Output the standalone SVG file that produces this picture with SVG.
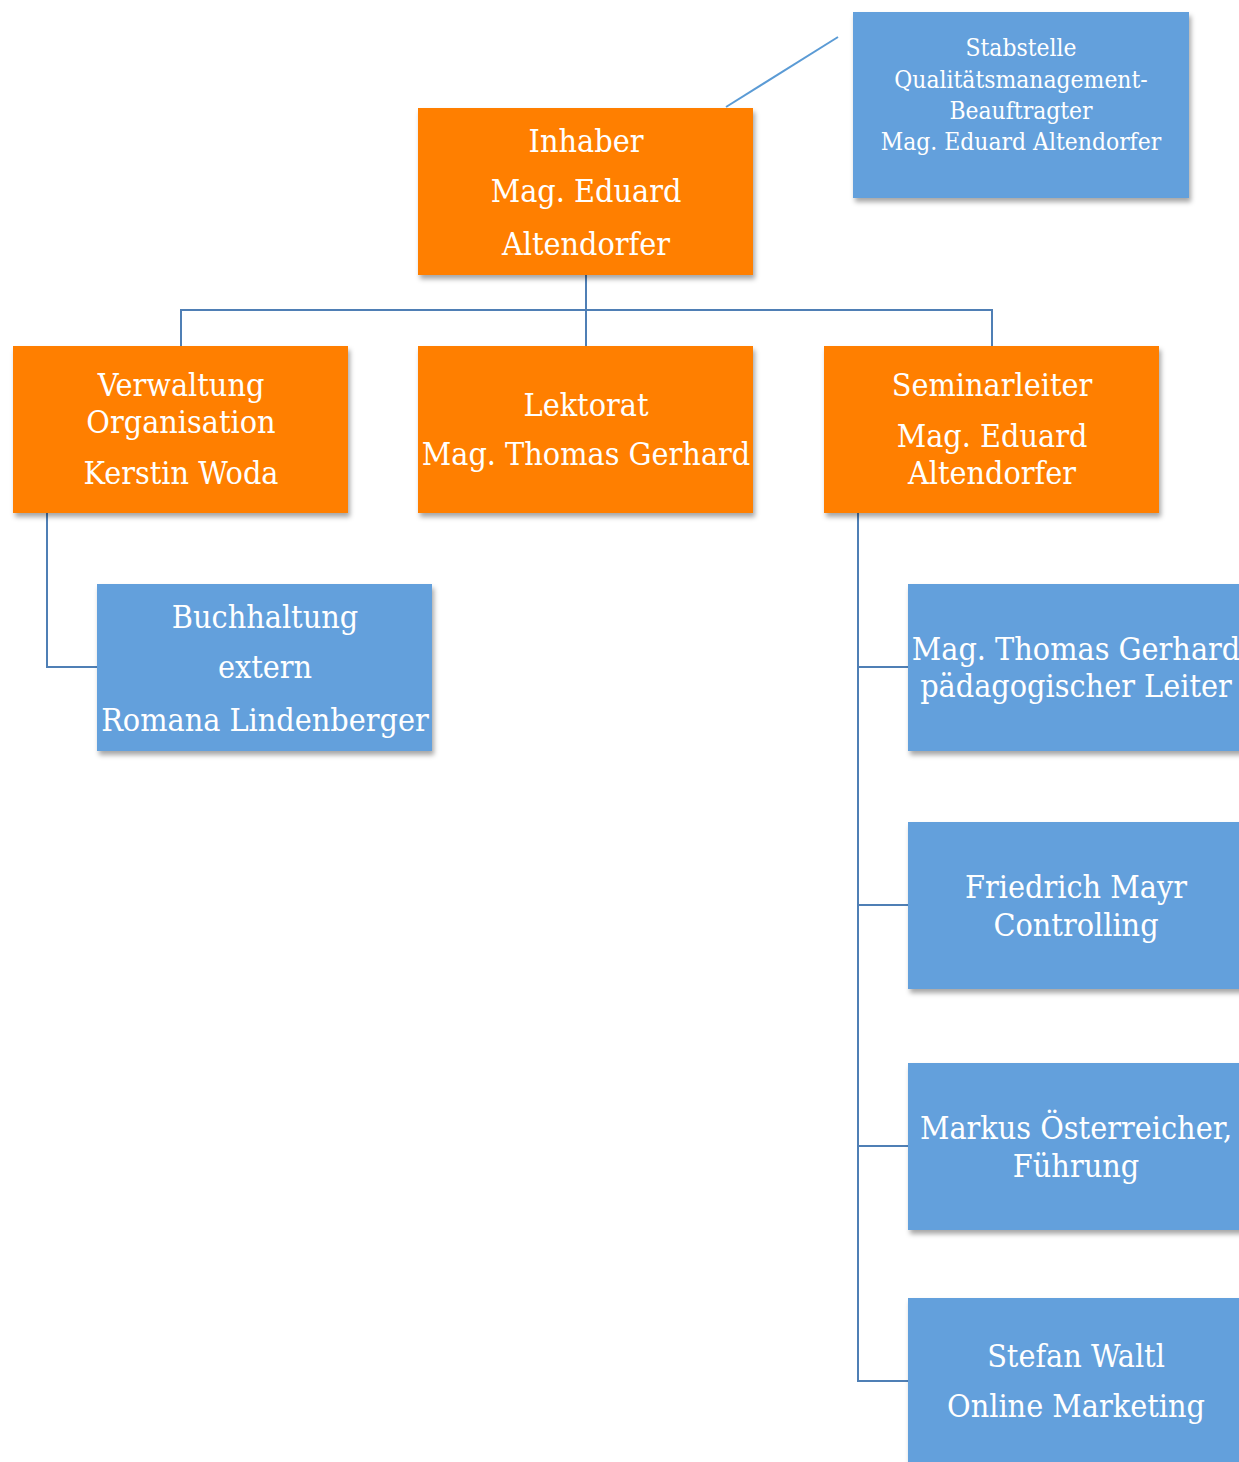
<svg xmlns="http://www.w3.org/2000/svg" width="1239" height="1462" viewBox="0 0 1239 1462">
<defs>
<filter id="sh" x="-5%" y="-5%" width="115%" height="120%">
<feDropShadow dx="2" dy="4" stdDeviation="2.5" flood-color="#000" flood-opacity="0.35"/>
</filter>
</defs>
<style>
.o{fill:#FF7F00;filter:url(#sh)}
.b{fill:#64A0DC;filter:url(#sh)}
text{font-family:"DejaVu Serif Condensed","DejaVu Serif","Liberation Serif",serif;fill:#fff;text-anchor:middle;font-size:32px}
.s{font-size:24.4px}
.c{fill:none;stroke:#4F7FB5;stroke-width:2}
</style>
<rect width="1239" height="1462" fill="#fff"/>
<g id="connectors">
<line x1="726" y1="107" x2="838" y2="37" stroke="#5B9BD5" stroke-width="2"/>
<polyline class="c" points="586,275 586,346"/>
<polyline class="c" points="181,346 181,310 992,310 992,346"/>
<polyline class="c" points="47,513 47,667 97,667"/>
<polyline class="c" points="858,513 858,1381 908,1381"/>
<line class="c" x1="858" y1="667" x2="908" y2="667"/>
<line class="c" x1="858" y1="905" x2="908" y2="905"/>
<line class="c" x1="858" y1="1146" x2="908" y2="1146"/>
</g>
<g id="stabstelle">
<rect class="b" x="853" y="12" width="336" height="186"/>
<text class="s" x="1021" y="56">Stabstelle</text>
<text class="s" x="1021" y="88">Qualitätsmanagement-</text>
<text class="s" x="1021" y="119">Beauftragter</text>
<text class="s" x="1021" y="150">Mag. Eduard Altendorfer</text>
</g>
<g id="inhaber">
<rect class="o" x="418" y="108" width="335" height="167"/>
<text x="586" y="152">Inhaber</text>
<text x="586" y="202">Mag. Eduard</text>
<text x="586" y="255">Altendorfer</text>
</g>
<g id="verwaltung">
<rect class="o" x="13" y="346" width="335" height="167"/>
<text x="181" y="396">Verwaltung</text>
<text x="181" y="433">Organisation</text>
<text x="181" y="484">Kerstin Woda</text>
</g>
<g id="lektorat">
<rect class="o" x="418" y="346" width="335" height="167"/>
<text x="586" y="416">Lektorat</text>
<text x="586" y="465">Mag. Thomas Gerhard</text>
</g>
<g id="seminarleiter">
<rect class="o" x="824" y="346" width="335" height="167"/>
<text x="992" y="396">Seminarleiter</text>
<text x="992" y="447">Mag. Eduard</text>
<text x="992" y="484">Altendorfer</text>
</g>
<g id="buchhaltung">
<rect class="b" x="97" y="584" width="335" height="167"/>
<text x="265" y="628">Buchhaltung</text>
<text x="265" y="678">extern</text>
<text x="265" y="731">Romana Lindenberger</text>
</g>
<g id="gerhard">
<rect class="b" x="908" y="584" width="335" height="167"/>
<text x="1076" y="660">Mag. Thomas Gerhard</text>
<text x="1076" y="697">pädagogischer Leiter</text>
</g>
<g id="mayr">
<rect class="b" x="908" y="822" width="335" height="167"/>
<text x="1076" y="898">Friedrich Mayr</text>
<text x="1076" y="936">Controlling</text>
</g>
<g id="oesterreicher">
<rect class="b" x="908" y="1063" width="335" height="167"/>
<text x="1076" y="1139">Markus Österreicher,</text>
<text x="1076" y="1177">Führung</text>
</g>
<g id="waltl">
<rect class="b" x="908" y="1298" width="335" height="167"/>
<text x="1076" y="1367">Stefan Waltl</text>
<text x="1076" y="1417">Online Marketing</text>
</g>
</svg>
